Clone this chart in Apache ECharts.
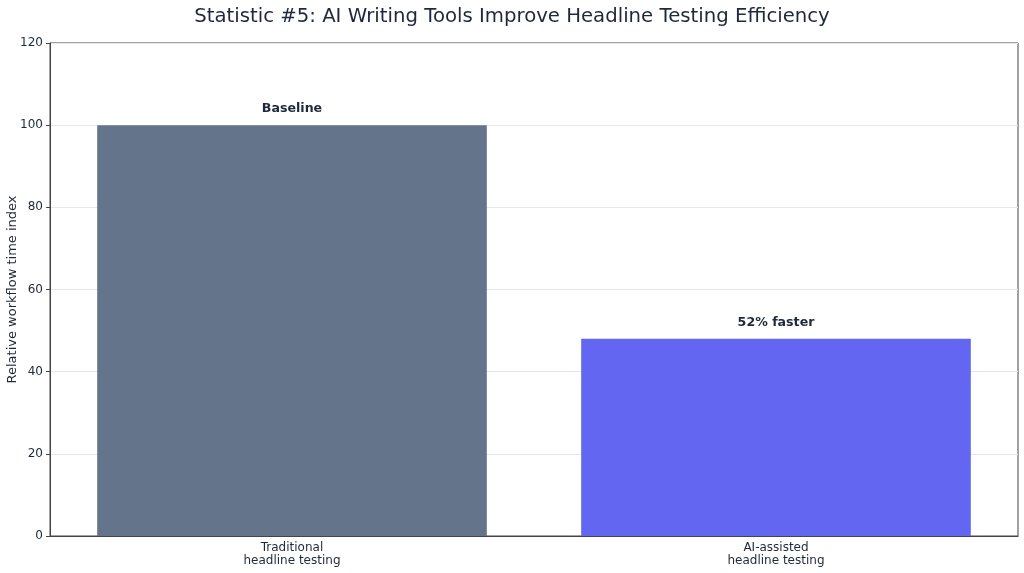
<!DOCTYPE html>
<html>
<head>
<meta charset="utf-8">
<script src="https://cdn.jsdelivr.net/npm/echarts@6/dist/echarts.min.js"></script>
<style>
  html, body { margin: 0; padding: 0; background: #fff; }
  #chart { width: 1024px; height: 573px; }
</style>
</head>
<body>
<div id="chart"></div>
<script>
const categories = ['Traditional\nheadline testing', 'AI-assisted\nheadline testing'];
const values = [100, 48];
const barLabels = ['Baseline', '52% faster'];
const barColors = ['#64748b', '#6366f1'];

const textColor = '#1e293b';
const font = 'DejaVu Sans';

const chart = echarts.init(document.getElementById('chart'));

chart.setOption({
    backgroundColor: '#ffffff',
    animation: false,
    title: {
        text: 'Statistic #5: AI Writing Tools Improve Headline Testing Efficiency',
        left: 'center',
        top: 2,
        textStyle: { fontFamily: font, fontSize: 19.7, fontWeight: 'normal', color: textColor }
    },
    grid: {
        left: 50, right: 6, top: 43, bottom: 37,
        outerBoundsMode: 'none', containLabel: false,
        show: true, borderColor: '#444', borderWidth: 1
    },
    xAxis: {
        type: 'category',
        data: categories,
        axisLine: { lineStyle: { color: '#444' } },
        axisTick: { alignWithLabel: true, length: 4, lineStyle: { color: '#444' } },
        axisLabel: { fontFamily: font, fontSize: 12, color: textColor, lineHeight: 13, margin: 5 }
    },
    yAxis: {
        type: 'value',
        min: 0,
        max: 120,
        interval: 20,
        name: 'Relative workflow time index',
        nameLocation: 'middle',
        nameGap: 31,
        nameMoveOverlap: false,
        nameTextStyle: { fontFamily: font, fontSize: 13, color: textColor },
        axisLine: { show: true, lineStyle: { color: '#444' } },
        axisTick: { show: true, length: 4, lineStyle: { color: '#444' } },
        axisLabel: { fontFamily: font, fontSize: 12, color: textColor, margin: 7 },
        splitLine: { lineStyle: { color: '#e5e7eb', width: 1 } }
    },
    series: [{
        type: 'bar',
        barWidth: '80.5%',
        data: values.map((v, i) => ({
            value: v,
            itemStyle: { color: barColors[i] },
            label: { formatter: barLabels[i] }
        })),
        label: {
            show: true,
            position: 'top',
            distance: 10,
            fontFamily: font,
            fontSize: 12.6,
            fontWeight: 'bold',
            color: textColor
        }
    }]
});
</script>
</body>
</html>
